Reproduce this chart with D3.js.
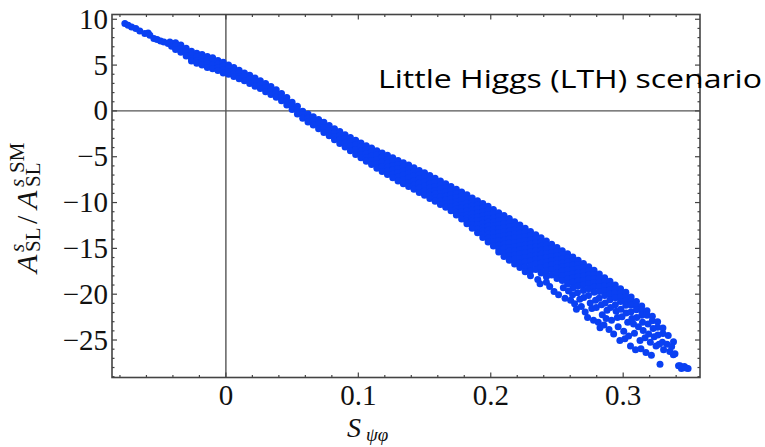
<!DOCTYPE html>
<html><head><meta charset="utf-8">
<script src="https://cdn.jsdelivr.net/npm/d3@7"></script>
<style>body{margin:0;background:#fff}svg{display:block}</style>
</head><body>
<svg id="chart" width="765" height="447"></svg>
<script>
// ---------- data ----------
const xMajor = [0, 0.1, 0.2, 0.3];
const xMajorLabels = ["0", "0.1", "0.2", "0.3"];
const yMajor = [10, 5, 0, -5, -10, -15, -20, -25];
const yMajorLabels = ["10", "5", "0", "\u22125", "\u221210", "\u221215", "\u221220", "\u221225"];
const annotation = "Little Higgs (LTH) scenario";

// isolated points of the thin upper-left tail
const tailPoints = [
  [-0.0763,9.53],[-0.0738,9.35],[-0.0712,9.16],[-0.068,8.99],[-0.065,8.72],[-0.0612,8.44],
  [-0.0587,8.51],[-0.0574,8.26],[-0.0544,7.9],[-0.0519,7.79],[-0.0493,7.63],[-0.0468,7.52],
  [-0.0436,7.35],[-0.0423,7.52],[-0.041,7.06],[-0.0398,7.35]
];

// scan columns of the dense band: [S_psi_phi, [A ratios ...]]
const bandColumns = [
  [-0.038,[7.45,7.05,6.7]],
  [-0.034,[7.2,6.8,6.4]],
  [-0.030,[6.85,6.45,6.0]],
  [-0.026,[6.5,6.1,5.7,5.45]],
  [-0.022,[6.3,5.9,5.5,5.2]],
  [-0.018,[6.15,5.75,5.35,5.0]],
  [-0.014,[5.95,5.55,5.15,4.75]],
  [-0.010,[5.8,5.4,5.0,4.6]],
  [-0.006,[5.5,5.1,4.75,4.4]],
  [-0.002,[5.3,4.9,4.5,4.15]],
  [0.002,[5.0,4.65,4.3,4.0]],
  [0.006,[4.75,4.4,4.05,3.75]],
  [0.010,[4.45,4.1,3.75,3.5]],
  [0.014,[4.15,3.75,3.3]],
  [0.018,[3.9,3.45,3.0]],
  [0.022,[3.6,3.15,2.7]],
  [0.026,[3.3,2.85,2.45]],
  [0.030,[3.0,2.55,2.1]],
  [0.034,[2.65,2.2,1.8]],
  [0.038,[2.3,1.9,1.5]],
  [0.042,[1.9,1.5,1.1]],
  [0.046,[1.45,1.05,0.65]],
  [0.050,[0.95,0.55,0.15]],
  [0.054,[0.5,0.1,-0.35]],
  [0.058,[-0.05,-0.45,-0.8]],
  [0.062,[-0.35,-0.8,-1.2]],
  [0.066,[-0.65,-1.1,-1.55]],
  [0.070,[-0.95,-1.45,-1.95]],
  [0.074,[-1.25,-1.8,-2.35]],
  [0.078,[-1.6,-2.15,-2.7]],
  [0.082,[-1.95,-2.4,-2.8,-3.15]],
  [0.086,[-2.25,-2.7,-3.15,-3.55]],
  [0.090,[-2.6,-3.05,-3.5,-3.95]],
  [0.094,[-2.9,-3.35,-3.85,-4.35]],
  [0.098,[-3.2,-3.7,-4.2,-4.75]],
  [0.102,[-3.5,-3.95,-4.4,-4.75,-5.1]],
  [0.106,[-3.8,-4.2,-4.65,-5.1,-5.5]],
  [0.110,[-4.05,-4.5,-4.95,-5.4,-5.85]],
  [0.114,[-4.35,-4.8,-5.3,-5.8,-6.25]],
  [0.118,[-4.6,-5.05,-5.55,-6.1,-6.6]],
  [0.122,[-4.85,-5.3,-5.7,-6.15,-6.55,-6.95]],
  [0.126,[-5.1,-5.55,-6.0,-6.45,-6.9,-7.3]],
  [0.130,[-5.4,-5.85,-6.3,-6.75,-7.2,-7.65]],
  [0.134,[-5.65,-6.1,-6.55,-7.0,-7.5,-7.95]],
  [0.138,[-5.9,-6.35,-6.8,-7.3,-7.8,-8.25]],
  [0.142,[-6.2,-6.65,-7.1,-7.6,-8.1,-8.55]],
  [0.146,[-6.5,-6.95,-7.4,-7.9,-8.4,-8.9]],
  [0.150,[-6.75,-7.2,-7.7,-8.2,-8.7,-9.2]],
  [0.154,[-7.05,-7.5,-7.95,-8.4,-8.85,-9.2,-9.55]],
  [0.158,[-7.35,-7.8,-8.25,-8.7,-9.1,-9.5,-9.85]],
  [0.162,[-7.65,-8.1,-8.55,-9.0,-9.4,-9.8,-10.2]],
  [0.166,[-7.95,-8.4,-8.85,-9.3,-9.7,-10.1,-10.5]],
  [0.170,[-8.25,-8.7,-9.15,-9.6,-10.05,-10.5,-10.9]],
  [0.174,[-8.55,-9.0,-9.45,-9.9,-10.3,-10.7,-11.05,-11.35]],
  [0.178,[-8.85,-9.3,-9.75,-10.2,-10.6,-11.0,-11.4,-11.8]],
  [0.182,[-9.15,-9.6,-10.05,-10.5,-10.9,-11.3,-11.7,-12.0,-12.3]],
  [0.186,[-9.5,-9.95,-10.4,-10.85,-11.25,-11.65,-12.05,-12.45,-12.8]],
  [0.190,[-9.8,-10.25,-10.7,-11.15,-11.55,-11.95,-12.4,-12.85,-13.3]],
  [0.194,[-10.1,-10.55,-11.0,-11.45,-11.85,-12.25,-12.7,-13.1,-13.45,-13.8]],
  [0.198,[-10.4,-10.85,-11.3,-11.75,-12.15,-12.55,-13.0,-13.45,-13.9,-14.3]],
  [0.202,[-10.75,-11.2,-11.65,-12.1,-12.5,-12.9,-13.35,-13.8,-14.25,-14.75]],
  [0.206,[-11.1,-11.55,-12.0,-12.45,-12.85,-13.3,-13.75,-14.2,-14.65,-15.05,-15.4]],
  [0.210,[-11.4,-11.85,-12.3,-12.75,-13.2,-13.65,-14.1,-14.55,-15.0,-15.45,-15.9]],
  [0.214,[-11.75,-12.2,-12.65,-13.1,-13.55,-14.0,-14.45,-14.9,-15.3,-15.8,-16.3]],
  [0.218,[-12.1,-12.55,-13.0,-13.45,-13.9,-14.35,-14.8,-15.25,-15.7,-16.2,-16.7]],
  [0.222,[-12.45,-12.9,-13.35,-13.8,-14.25,-14.7,-15.15,-15.6,-16.1,-16.6,-17.1]],
  [0.226,[-12.8,-13.25,-13.7,-14.15,-14.6,-15.05,-15.5,-16.0,-16.5,-17.05,-17.55]],
  [0.230,[-13.15,-13.6,-14.05,-14.5,-14.95,-15.4,-15.85,-16.35,-16.9,-17.45,-18.0]],
  [0.234,[-13.5,-13.95,-14.4,-14.85,-15.3,-15.75,-16.2,-16.7,-17.3]],
  [0.238,[-13.85,-14.3,-14.75,-15.2,-15.65,-16.1,-16.6,-17.1,-17.7]],
  [0.242,[-14.2,-14.65,-15.1,-15.55,-16.0,-16.45,-16.95,-17.5,-18.1,-18.7]],
  [0.246,[-14.55,-15.0,-15.45,-15.9,-16.35,-16.8,-17.3,-17.9]],
  [0.250,[-14.9,-15.35,-15.8,-16.25,-16.7,-17.15,-17.7,-18.3]],
  [0.254,[-15.25,-15.7,-16.15,-16.6,-17.05,-17.5,-18.0,-18.5]],
  [0.258,[-15.6,-16.05,-16.5,-16.95,-17.4,-17.85,-18.35,-18.9]],
  [0.262,[-15.95,-16.4,-16.85,-17.3,-17.75,-18.2,-18.7,-19.3]],
  [0.266,[-16.3,-16.75,-17.2,-17.65,-18.1,-18.6,-19.1]],
  [0.270,[-16.65,-17.1,-17.55,-18.0,-18.5,-19.0,-19.6]],
  [0.274,[-17.0,-17.45,-17.9,-18.35,-18.85,-19.4]],
  [0.278,[-17.4,-17.85,-18.3,-18.75,-19.25,-19.8]],
  [0.282,[-17.8,-18.25,-18.7,-19.15,-19.7]],
  [0.286,[-18.2,-18.65,-19.1,-19.6,-20.15]],
  [0.290,[-18.6,-19.05,-19.5,-20.0,-20.6]],
  [0.294,[-19.0,-19.45,-19.9,-20.4]],
  [0.298,[-19.4,-19.85,-20.3,-20.8]],
  [0.302,[-19.8,-20.25,-20.7,-21.2]],
  [0.306,[-20.3,-20.75,-21.2]],
  [0.310,[-20.8,-21.25,-21.7]],
  [0.314,[-21.3,-21.75,-22.3]],
  [0.318,[-21.8,-22.3]],
  [0.322,[-22.4,-22.9]],
  [0.326,[-23.0,-23.6]],
  [0.330,[-23.7,-24.3]],
  [0.334,[-24.5]],
  [0.338,[-25.2]]
];

// scattered points below the dense band (lower-right spray)
const sprayPoints = [
  [0.2355,-18.4],[0.2372,-18.85],[0.2445,-19.15],[0.2478,-19.7],[0.2512,-20.05],[0.2548,-19.3],
  [0.2561,-20.45],[0.2587,-19.65],[0.2603,-20.65],[0.2618,-20.05],[0.2633,-21.05],[0.2647,-21.65],
  [0.2655,-19.85],[0.2672,-20.55],[0.2684,-21.35],[0.2702,-20.35],[0.2713,-21.95],[0.2731,-22.55],
  [0.2738,-20.15],[0.2751,-20.95],[0.2763,-21.55],[0.2776,-22.85],[0.2791,-20.65],[0.2797,-21.45],
  [0.2812,-23.05],[0.2825,-23.65],[0.2818,-20.45],[0.2836,-21.15],[0.2842,-22.25],[0.2855,-23.35],
  [0.2864,-20.95],[0.2878,-21.75],[0.2871,-22.65],[0.2893,-23.85],[0.2905,-21.45],[0.2912,-22.85],
  [0.2928,-24.35],[0.2941,-21.15],[0.2947,-21.85],[0.2956,-22.55],[0.2962,-23.55],[0.2975,-25.05],
  [0.2983,-21.65],[0.2991,-22.45],[0.3004,-24.05],[0.3013,-24.85],[0.3022,-22.05],[0.3034,-23.05],
  [0.3041,-24.55],[0.3055,-25.65],[0.3058,-21.95],[0.3066,-22.65],[0.3078,-23.25],[0.3085,-24.25],
  [0.3093,-26.05],[0.3102,-22.55],[0.3115,-23.55],[0.3127,-25.05],[0.3134,-25.95],[0.3146,-23.05],
  [0.3151,-23.95],[0.3165,-24.75],[0.3172,-26.35],[0.3188,-23.25],[0.3192,-24.35],[0.3205,-25.25],
  [0.3213,-26.65],[0.3226,-23.75],[0.3234,-24.65],[0.3248,-25.65],[0.3262,-24.45],[0.3271,-25.45],
  [0.3278,-27.65],[0.3296,-25.25],[0.3305,-26.05],[0.3331,-25.45],[0.3352,-26.25],[0.3366,-25.7],
  [0.3379,-26.6],[0.3391,-26.5],[0.3418,-27.8],[0.3429,-27.8],[0.3440,-28.1],[0.3462,-27.9],
  [0.3475,-28.05],[0.3490,-28.1]
];

// ---------- drawing ----------
const W = 765, H = 447;
const pL = 112, pR = 700, pT = 14.5, pB = 377.5;
const svg = d3.select("#chart");
svg.append("rect").attr("width", W).attr("height", H).attr("fill", "#fff");

const x = d3.scaleLinear().domain([-0.086, 0.358]).range([pL, pR]);
const y = d3.scaleLinear().domain([-29.09, 10.52]).range([pB, pT]);

// zero lines
svg.append("line").attr("x1", x(0)).attr("x2", x(0)).attr("y1", pT).attr("y2", pB)
  .attr("stroke", "#555").attr("stroke-width", 1.4);
svg.append("line").attr("x1", pL).attr("x2", pR).attr("y1", y(0)).attr("y2", y(0))
  .attr("stroke", "#555").attr("stroke-width", 1.4);

// points
const points = tailPoints
  .concat(bandColumns.flatMap(([sx, ys]) => ys.map(v => [sx, v])))
  .concat(sprayPoints);
svg.append("g").selectAll("circle").data(points).join("circle")
  .attr("cx", d => x(d[0])).attr("cy", d => y(d[1])).attr("r", 3.5)
  .attr("fill", "#0a40f2");

// frame
svg.append("rect").attr("x", pL).attr("y", pT).attr("width", pR - pL).attr("height", pB - pT)
  .attr("fill", "none").attr("stroke", "#444").attr("stroke-width", 1.6);

// ticks (inward, on all four sides)
const xMinor = d3.range(-0.08, 0.35, 0.02).filter(v => !xMajor.some(m => Math.abs(m - v) < 1e-9));
const yMinor = d3.range(-29, 11, 1).filter(v => !yMajor.includes(v));
const tk = svg.append("g").attr("stroke", "#444").attr("stroke-width", 1.2);
function xt(v, len) {
  tk.append("line").attr("x1", x(v)).attr("x2", x(v)).attr("y1", pB).attr("y2", pB - len);
  tk.append("line").attr("x1", x(v)).attr("x2", x(v)).attr("y1", pT).attr("y2", pT + len);
}
function yt(v, len) {
  tk.append("line").attr("x1", pL).attr("x2", pL + len).attr("y1", y(v)).attr("y2", y(v));
  tk.append("line").attr("x1", pR).attr("x2", pR - len).attr("y1", y(v)).attr("y2", y(v));
}
xMajor.forEach(v => xt(v, 5)); xMinor.forEach(v => xt(v, 2.5));
yMajor.forEach(v => yt(v, 5)); yMinor.forEach(v => yt(v, 2.5));

// tick labels
const serif = "'Liberation Serif','Times New Roman',serif";
svg.append("g").selectAll("text").data(xMajor).join("text")
  .attr("x", d => x(d)).attr("y", 405).attr("text-anchor", "middle")
  .attr("font-family", serif).attr("font-size", 29).attr("fill", "#111")
  .text((d, i) => xMajorLabels[i]);
svg.append("g").selectAll("text").data(yMajor).join("text")
  .attr("x", 108).attr("y", d => y(d) + 9.5).attr("text-anchor", "end")
  .attr("font-family", serif).attr("font-size", 29).attr("fill", "#111")
  .text((d, i) => yMajorLabels[i]);

// x-axis title S_{psi phi}
const xt1 = svg.append("text").attr("font-family", serif).attr("fill", "#111");
xt1.append("tspan").attr("x", 347).attr("y", 437).attr("font-size", 28).attr("font-style", "italic").text("S");
xt1.append("tspan").attr("x", 366).attr("y", 441).attr("font-size", 19).attr("font-style", "italic").text("\u03C8\u03C6");

// y-axis title A^s_SL / A^{s SM}_SL (rotated)
const yg = svg.append("g").attr("transform", "translate(37,273) rotate(-90)")
  .attr("font-family", serif).attr("fill", "#111");
const pieces = [
  {t: "A", x: 0, y: 0, s: 30, i: true},
  {t: "s", x: 21, y: -13, s: 21, i: true},
  {t: "SL", x: 21, y: 3, s: 21, i: false},
  {t: "/", x: 49, y: 0, s: 30, i: false},
  {t: "A", x: 64, y: 0, s: 30, i: true},
  {t: "s", x: 86, y: -13, s: 21, i: true},
  {t: "SM", x: 100, y: -13, s: 21, i: false},
  {t: "SL", x: 86, y: 3, s: 21, i: false}
];
pieces.forEach(p => yg.append("text").attr("x", p.x).attr("y", p.y).attr("font-size", p.s)
  .attr("font-style", p.i ? "italic" : "normal").text(p.t));

// annotation
svg.append("text").attr("x", 378).attr("y", 88).attr("font-family", "'Open Sans','Noto Sans',sans-serif")
  .attr("font-size", 25).attr("fill", "#000").attr("textLength", 384).attr("lengthAdjust", "spacingAndGlyphs")
  .text(annotation);
</script>
</body></html>
